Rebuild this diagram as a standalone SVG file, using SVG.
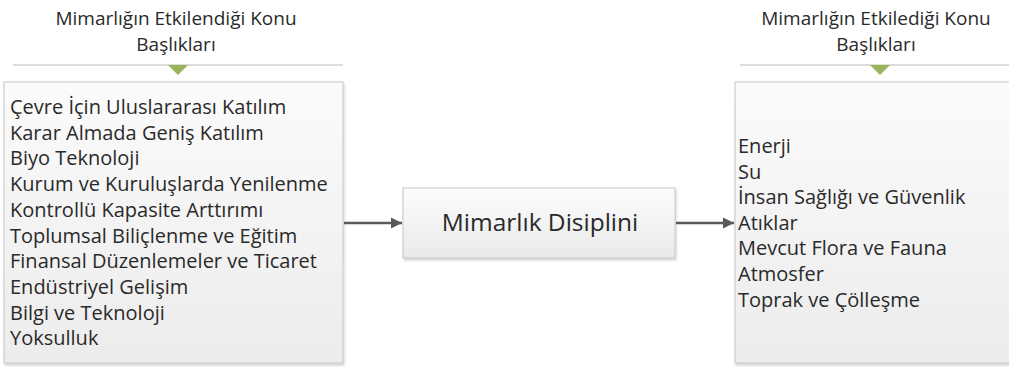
<svg xmlns="http://www.w3.org/2000/svg" width="1009" height="367" viewBox="0 0 1009 367">
<style>
.t{font-family:"Open Sans","Noto Sans",sans-serif;fill:#2a2a2a}
.title{font-size:19px;text-anchor:middle}
.list{font-size:20px}
.mid{font-size:24.5px;text-anchor:middle}
.box{stroke:#c6c6c6;stroke-width:1}
.sep{stroke:#d2d2d2;stroke-width:1.5}
.conn{stroke:#595959;stroke-width:2.5;fill:none}
</style>
<defs>
<linearGradient id="g" x1="0" y1="0" x2="0" y2="1">
<stop offset="0" stop-color="#fbfbfb"/>
<stop offset="1" stop-color="#ececec"/>
</linearGradient>
<linearGradient id="gm" x1="0" y1="0" x2="0" y2="1">
<stop offset="0" stop-color="#fdfdfd"/>
<stop offset="1" stop-color="#e9e9e9"/>
</linearGradient>
<filter id="sh" x="-5%" y="-5%" width="110%" height="115%">
<feDropShadow dx="1" dy="2" stdDeviation="1.2" flood-color="#000" flood-opacity="0.18"/>
</filter>
<marker id="ah" viewBox="0 0 10 10" refX="10" refY="5" markerWidth="4.5" markerHeight="4.5" markerUnits="strokeWidth" orient="auto">
<path d="M0,0 L10,5 L0,10 z" fill="#595959"/>
</marker>
</defs>
<g id="left-header">
<text class="t title" x="176" y="25">Mimarlığın Etkilendiği Konu</text>
<text class="t title" x="176" y="51">Başlıkları</text>
<line class="sep" x1="13" y1="65" x2="343" y2="65"/>
<path d="M168,65 L188,65 L178,75 z" fill="#9bb35a"/>
</g>
<g id="left-box">
<rect class="box" x="4" y="82" width="339" height="281" fill="url(#g)" filter="url(#sh)"/>
<text class="t list" x="10" y="114">Çevre İçin Uluslararası Katılım</text>
<text class="t list" x="10" y="139.7">Karar Almada Geniş Katılım</text>
<text class="t list" x="10" y="165.4">Biyo Teknoloji</text>
<text class="t list" x="10" y="191.1">Kurum ve Kuruluşlarda Yenilenme</text>
<text class="t list" x="10" y="216.8">Kontrollü Kapasite Arttırımı</text>
<text class="t list" x="10" y="242.5">Toplumsal Biliçlenme ve Eğitim</text>
<text class="t list" x="10" y="268.2">Finansal Düzenlemeler ve Ticaret</text>
<text class="t list" x="10" y="293.9">Endüstriyel Gelişim</text>
<text class="t list" x="10" y="319.6">Bilgi ve Teknoloji</text>
<text class="t list" x="10" y="345.3">Yoksulluk</text>
</g>
<g id="middle">
<rect class="box" x="403" y="188" width="272" height="70" fill="url(#gm)" filter="url(#sh)"/>
<text class="t mid" x="540" y="231">Mimarlık Disiplini</text>
</g>
<g id="right-header">
<text class="t title" x="876" y="25">Mimarlığın Etkilediği Konu</text>
<text class="t title" x="876" y="51">Başlıkları</text>
<line class="sep" x1="740" y1="65" x2="1009" y2="65"/>
<path d="M870,65 L890,65 L880,75 z" fill="#9bb35a"/>
</g>
<g id="right-box">
<rect class="box" x="735" y="82" width="290" height="281" fill="url(#g)" filter="url(#sh)"/>
<text class="t list" x="738" y="153">Enerji</text>
<text class="t list" x="738" y="178.6">Su</text>
<text class="t list" x="738" y="204.2">İnsan Sağlığı ve Güvenlik</text>
<text class="t list" x="738" y="229.8">Atıklar</text>
<text class="t list" x="738" y="255.4">Mevcut Flora ve Fauna</text>
<text class="t list" x="738" y="281">Atmosfer</text>
<text class="t list" x="738" y="306.6">Toprak ve Çölleşme</text>
</g>
<g id="connectors">
<line class="conn" x1="344" y1="223" x2="402" y2="223" marker-end="url(#ah)"/>
<line class="conn" x1="676" y1="223" x2="734" y2="223" marker-end="url(#ah)"/>
</g>
</svg>
